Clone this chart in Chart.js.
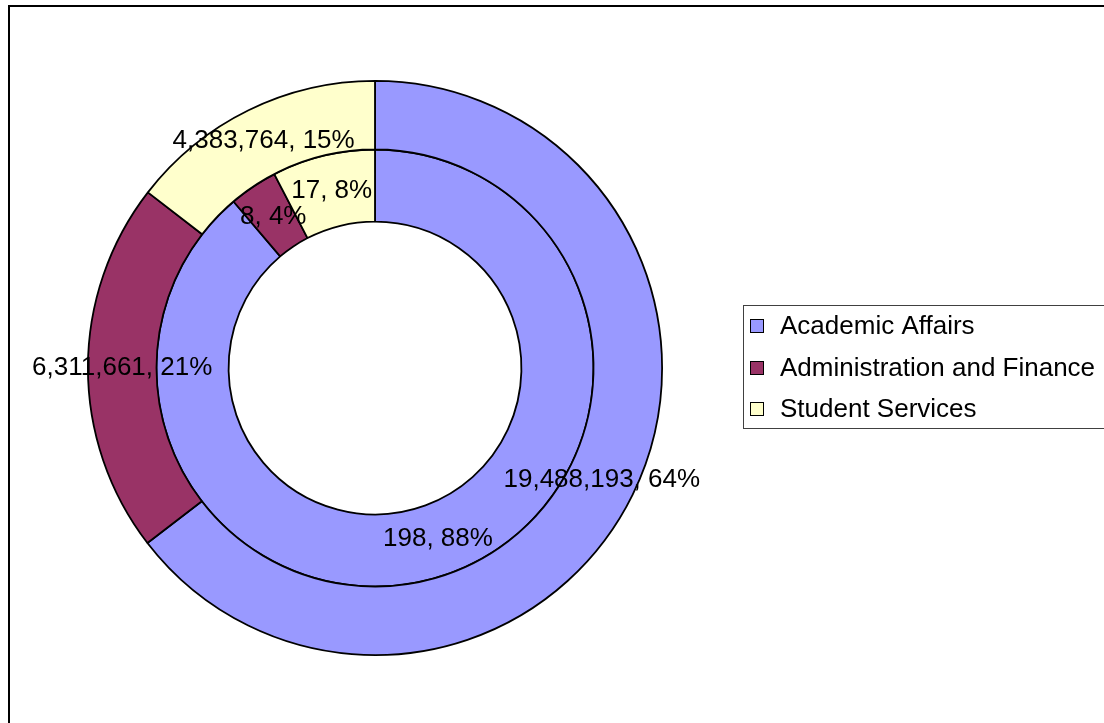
<!DOCTYPE html>
<html>
<head>
<meta charset="utf-8">
<script src="https://cdn.jsdelivr.net/npm/chart.js@4/dist/chart.umd.min.js"></script>
<style>
html,body{margin:0;padding:0;background:#fff;}
#wrap{position:relative;width:1104px;height:723px;}
</style>
</head>
<body>
<div id="wrap"><canvas id="c" width="1104" height="723"></canvas></div>
<script>
const categories = ["Academic Affairs", "Administration and Finance", "Student Services"];
const outerValues = [19488193, 6311661, 4383764];
const outerPercents = [64, 21, 15];
const innerValues = [198, 8, 17];
const innerPercents = [88, 4, 8];
const colors = ["#9999FF", "#993366", "#FFFFCC"];

const FONT = "'Liberation Sans', Arial, sans-serif";

const labelPlugin = {
  id: 'sliceLabels',
  afterDatasetsDraw(chart) {
    const ctx = chart.ctx;
    ctx.save();
    ctx.font = "26px " + FONT;
    ctx.fillStyle = "#000";
    ctx.textAlign = "center";
    ctx.textBaseline = "middle";
    chart.data.datasets.forEach((ds, di) => {
      const meta = chart.getDatasetMeta(di);
      meta.data.forEach((arc, i) => {
        const p = arc.tooltipPosition();
        const txt = ds.data[i].toLocaleString('en-US') + ", " + ds.pcts[i] + "%";
        ctx.fillText(txt, p.x, p.y);
      });
    });
    ctx.restore();
  }
};

const framePlugin = {
  id: 'frameLegend',
  afterDraw(chart) {
    const ctx = chart.ctx;
    ctx.save();
    ctx.strokeStyle = "#000";
    ctx.lineWidth = 2;
    ctx.strokeRect(9, 6, 1200, 800);
    ctx.lineWidth = 1;
    ctx.strokeStyle = "#404040";
    ctx.strokeRect(743.5, 305.5, 420, 123);
    ctx.font = "26px " + FONT;
    ctx.textAlign = "left";
    ctx.textBaseline = "middle";
    const ys = [326, 368, 409];
    chart.data.labels.forEach((lab, i) => {
      ctx.fillStyle = colors[i];
      ctx.fillRect(750, ys[i] - 7, 14, 14);
      ctx.strokeStyle = "#000";
      ctx.strokeRect(750.5, ys[i] - 6.5, 13, 13);
      ctx.fillStyle = "#000";
      ctx.fillText(lab, 780, ys[i] + 1);
    });
    ctx.restore();
  }
};

new Chart(document.getElementById('c'), {
  type: 'doughnut',
  data: {
    labels: categories,
    datasets: [
      { data: outerValues, pcts: outerPercents, backgroundColor: colors, borderColor: "#000", borderWidth: 1.8, weight: 68.5, borderAlign: 'center' },
      { data: innerValues, pcts: innerPercents, backgroundColor: colors, borderColor: "#000", borderWidth: 1.8, weight: 72, borderAlign: 'center' }
    ]
  },
  options: {
    responsive: false,
    animation: false,
    cutout: '51%',
    layout: { padding: { left: 87, top: 80, right: 441, bottom: 67 } },
    plugins: {
      legend: { display: false },
      tooltip: { enabled: false }
    }
  },
  plugins: [labelPlugin, framePlugin]
});
</script>
</body>
</html>
